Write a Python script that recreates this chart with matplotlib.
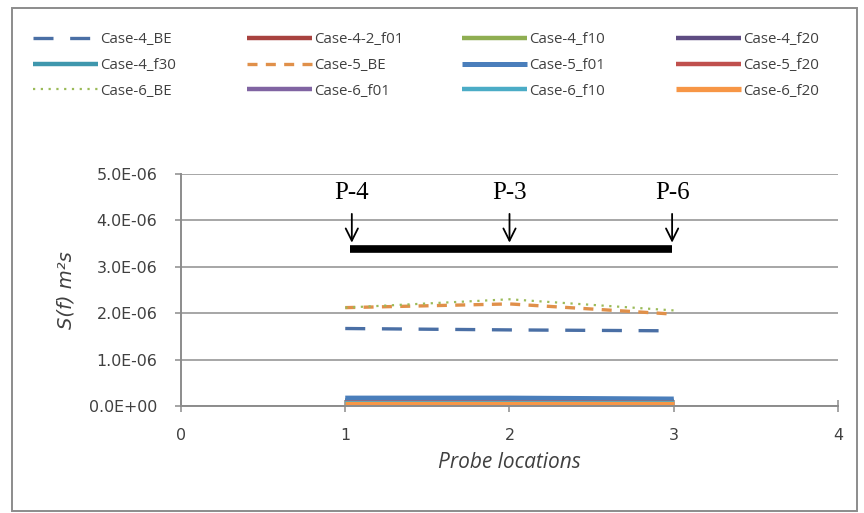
import matplotlib
matplotlib.use("Agg")
import matplotlib.pyplot as plt
from matplotlib.patches import Rectangle

# ---------------- data ----------------
probe_x = [1, 2, 3]

case4_be = [1.67e-6, 1.64e-6, 1.62e-6]
case4_2_f01 = [0.12e-6, 0.12e-6, 0.11e-6]
case4_f10 = [0.10e-6, 0.10e-6, 0.09e-6]
case4_f20 = [0.09e-6, 0.09e-6, 0.08e-6]
case4_f30 = [0.11e-6, 0.11e-6, 0.10e-6]
case5_be = [2.12e-6, 2.20e-6, 1.98e-6]
case5_f01 = [0.17e-6, 0.17e-6, 0.15e-6]
case5_f20 = [0.08e-6, 0.08e-6, 0.07e-6]
case6_be = [2.12e-6, 2.30e-6, 2.06e-6]
case6_f01 = [0.07e-6, 0.07e-6, 0.06e-6]
case6_f10 = [0.06e-6, 0.06e-6, 0.06e-6]
case6_f20 = [0.05e-6, 0.05e-6, 0.05e-6]

labels = ["Case-4_BE", "Case-4-2_f01", "Case-4_f10", "Case-4_f20",
          "Case-4_f30", "Case-5_BE", "Case-5_f01", "Case-5_f20",
          "Case-6_BE", "Case-6_f01", "Case-6_f10", "Case-6_f20"]
series = [case4_be, case4_2_f01, case4_f10, case4_f20,
          case4_f30, case5_be, case5_f01, case5_f20,
          case6_be, case6_f01, case6_f10, case6_f20]

probe_names = ["P-4", "P-3", "P-6"]
probe_pos = [1.04, 2.0, 2.99]
bar_y = 3.39e-6

yticks = [0, 1e-6, 2e-6, 3e-6, 4e-6, 5e-6]
ytick_labels = ["0.0E+00", "1.0E-06", "2.0E-06", "3.0E-06", "4.0E-06", "5.0E-06"]
xticks = [0, 1, 2, 3, 4]

# ---------------- styles ----------------
colors = ["#4a6fa5", "#a8423f", "#8fae52", "#5e4c82",
          "#3f97ad", "#e0904a", "#4a7ebb", "#c0504d",
          "#9bbb59", "#8064a2", "#4bacc6", "#f79646"]
styles = [dict(lw=2.4, dashes=(6, 5)), dict(lw=3.2), dict(lw=3.2), dict(lw=3.2),
          dict(lw=3.2), dict(lw=2.4, dashes=(3, 2.5)), dict(lw=3.6), dict(lw=3.2),
          dict(lw=1.6, dashes=(1, 2.5)), dict(lw=3.2), dict(lw=3.2), dict(lw=3.8)]

plt.rcParams['font.family'] = ['Open Sans', 'DejaVu Sans']
txt_color = "#404040"
grid_color = "#a6a6a6"

fig = plt.figure(figsize=(8.64, 5.13), dpi=100)
W, H = 864, 513

# outer chart frame
fig.patches.append(Rectangle((12 / W, 2 / H), (857 - 12) / W, (505 - 2) / H,
                             transform=fig.transFigure, fill=False,
                             edgecolor="#8c8c8c", lw=1.4))

ax = fig.add_axes([181 / W, 1 - 406 / H, (838 - 181) / W, (406 - 174) / H])

handles = []
for y, lab, c, st in zip(series, labels, colors, styles):
    h, = ax.plot(probe_x, y, color=c, label=lab, solid_capstyle='butt',
                 dash_capstyle='butt', **st)
    handles.append(h)

ax.set_xlim(0, 4)
ax.set_ylim(0, 5e-6)
ax.set_xticks(xticks)
ax.set_xticklabels([str(t) for t in xticks])
ax.set_yticks(yticks)
ax.set_yticklabels(ytick_labels)
for t in ax.get_xticklabels() + ax.get_yticklabels():
    t.set_family('DejaVu Sans')
ax.yaxis.grid(True, color=grid_color, lw=1.4)
ax.set_axisbelow(True)
for s in ["top", "right"]:
    ax.spines[s].set_visible(False)
for s in ["left", "bottom"]:
    ax.spines[s].set_color("#8c8c8c")
    ax.spines[s].set_linewidth(1.4)
ax.tick_params(axis='both', colors="#8c8c8c", labelcolor=txt_color,
               labelsize=11.4, width=1.1)
ax.tick_params(axis='x', direction='inout', length=8, pad=12)
ax.tick_params(axis='y', length=4, pad=13)

ax.set_xlabel("Probe locations", style='italic', fontsize=15, color=txt_color,
              labelpad=6)
ax.set_ylabel("S(f) m²s", style='italic', family='DejaVu Sans', fontsize=14,
              color=txt_color, labelpad=10)

# probe diagram
ax.plot([probe_pos[0] - 0.01, probe_pos[-1]], [bar_y, bar_y], color="black",
        lw=5.5, solid_capstyle='butt', zorder=5)
for name, px in zip(probe_names, probe_pos):
    ax.annotate("", xy=(px, bar_y + 0.07e-6), xytext=(px, 4.2e-6),
                arrowprops=dict(arrowstyle="->", color="black", lw=1.3,
                                mutation_scale=22), zorder=6)
    ax.text(px, 4.6e-6, name, ha='center', va='center',
            family='Liberation Serif', fontsize=18, color='black', zorder=6)

# legend: four columns of three entries
col_x = [33, 247, 462, 676]
for ci in range(4):
    idx = [ci, ci + 4, ci + 8]
    leg = fig.legend([handles[i] for i in idx], [labels[i] for i in idx],
                     loc='upper left', bbox_to_anchor=(col_x[ci] / W, 1 - 32 / H),
                     frameon=False, fontsize=10.8, handlelength=4.3,
                     handletextpad=0.2, labelspacing=0.72, borderpad=0,
                     borderaxespad=0)
    for t in leg.get_texts():
        t.set_color(txt_color)

fig.savefig("out.png", dpi=100)
